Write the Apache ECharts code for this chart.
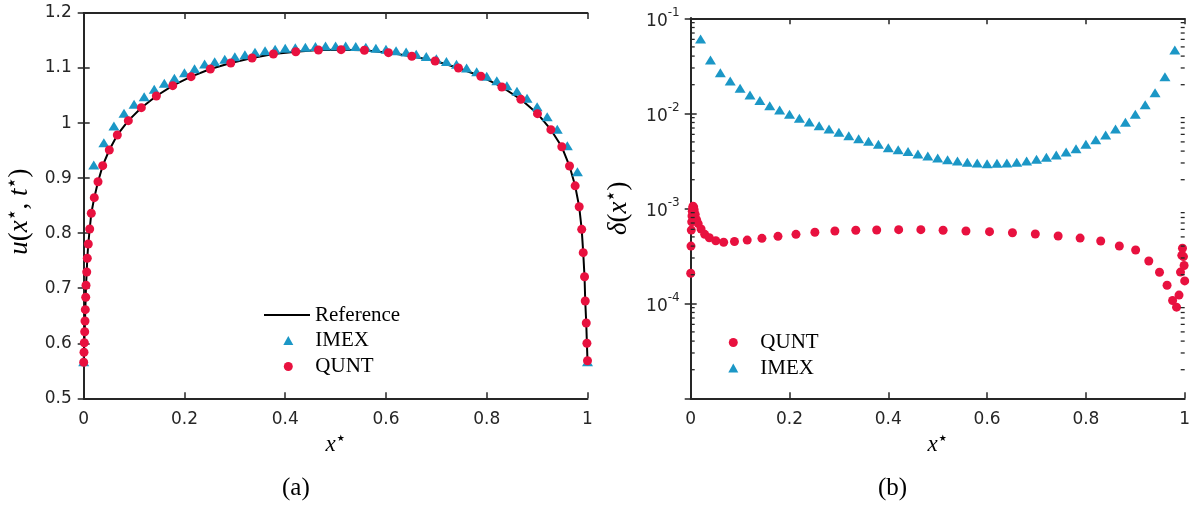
<!DOCTYPE html>
<html><head><meta charset="utf-8">
<script src="https://cdn.jsdelivr.net/npm/echarts@6/dist/echarts.min.js"></script>
<style>html,body{margin:0;padding:0;background:#fff}#c{width:1196px;height:511px}</style>
</head><body><div id="c"></div>
<script>
// ---------- data ----------
const quntX = [0, 0.0006, 0.0012, 0.002, 0.0026, 0.0032, 0.004, 0.0046, 0.006, 0.0071, 0.0091, 0.0119, 0.0151,
  0.021, 0.0284, 0.0377, 0.0508, 0.0667, 0.0886, 0.1144, 0.1442, 0.1767, 0.2131, 0.2514, 0.2919, 0.3342, 0.3765, 0.421,
  0.4659, 0.5109, 0.5572, 0.6049, 0.6513, 0.6976, 0.7438, 0.7883, 0.83, 0.8677, 0.9007,
  0.9273, 0.949, 0.9643, 0.9755, 0.9835, 0.9885, 0.9915, 0.9941, 0.9955, 0.9975, 0.9988, 1.0];
const quntU = [0.5654, 0.5836, 0.601, 0.621, 0.6404, 0.661, 0.6835, 0.7053, 0.7295, 0.7544, 0.7803, 0.8076, 0.8361,
  0.8645, 0.8935, 0.9226, 0.9511, 0.9784, 1.0044, 1.028, 1.0492, 1.068, 1.0843, 1.0983, 1.1092, 1.1183, 1.1255, 1.1297,
  1.1328, 1.1334, 1.1323, 1.1279, 1.1214, 1.1128, 1.1001, 1.085, 1.0656, 1.0432, 1.0171,
  0.988, 0.957, 0.922, 0.886, 0.848, 0.807, 0.7646, 0.7209, 0.6768, 0.6368, 0.60, 0.5683];
const refX = [0, 0.0006, 0.0012, 0.002, 0.0026, 0.0032, 0.004, 0.0046, 0.006, 0.0071, 0.0091, 0.0119, 0.0151,
  0.021, 0.0284, 0.0377, 0.0508, 0.0667, 0.0886, 0.1144, 0.1442, 0.1767, 0.2131, 0.2514, 0.2919, 0.3342, 0.3765, 0.421,
  0.4659, 0.5109, 0.5572, 0.6049, 0.6513, 0.6976, 0.7438, 0.7883, 0.83, 0.8677, 0.9007,
  0.9273, 0.949, 0.9643, 0.9755, 0.9835, 0.9885, 0.9915, 0.9941, 0.9955, 0.9975, 0.9988, 1.0];
const refU = [0.5654, 0.5836, 0.601, 0.621, 0.6404, 0.661, 0.6835, 0.7053, 0.7295, 0.7544, 0.7803, 0.8076, 0.8361,
  0.8645, 0.8935, 0.9226, 0.9511, 0.9784, 1.0044, 1.028, 1.0492, 1.068, 1.0843, 1.0983, 1.1092, 1.1183, 1.1255, 1.1297,
  1.1328, 1.1334, 1.1323, 1.1279, 1.1214, 1.1128, 1.1001, 1.085, 1.0656, 1.0432, 1.0171,
  0.988, 0.957, 0.922, 0.886, 0.848, 0.807, 0.7646, 0.7209, 0.6768, 0.6368, 0.60, 0.5683];
const imexX = [0, 0.02, 0.04, 0.06, 0.08, 0.10, 0.12, 0.14, 0.16, 0.18, 0.20, 0.22, 0.24, 0.26, 0.28, 0.30, 0.32,
  0.34, 0.36, 0.38, 0.40, 0.42, 0.44, 0.46, 0.48, 0.50, 0.52, 0.54, 0.56, 0.58, 0.60, 0.62, 0.64, 0.66, 0.68, 0.70,
  0.72, 0.74, 0.76, 0.78, 0.80, 0.82, 0.84, 0.86, 0.88, 0.90, 0.92, 0.94, 0.96, 0.98, 1.0];
const imexU = [0.5665, 0.9239, 0.9645, 0.9948, 1.0178, 1.0342, 1.048, 1.0614, 1.0723, 1.0814, 1.0916, 1.0988, 1.1074,
  1.1116, 1.1159, 1.1206, 1.1243, 1.1287, 1.1315, 1.1341, 1.1359, 1.137, 1.138, 1.139, 1.140, 1.140, 1.140, 1.139,
  1.138, 1.136, 1.134, 1.1316, 1.129, 1.125, 1.121, 1.117, 1.112, 1.1068, 1.100, 1.0934, 1.085, 1.0771, 1.068,
  1.0577, 1.045, 1.0298, 1.0116, 0.9887, 0.959, 0.9117, 0.5665];
const imexErrX = [0.02, 0.04, 0.06, 0.08, 0.10, 0.12, 0.14, 0.16, 0.18, 0.20, 0.22, 0.24, 0.26, 0.28, 0.30, 0.32,
  0.34, 0.36, 0.38, 0.40, 0.42, 0.44, 0.46, 0.48, 0.50, 0.52, 0.54, 0.56, 0.58, 0.60, 0.62, 0.64, 0.66, 0.68, 0.70,
  0.72, 0.74, 0.76, 0.78, 0.80, 0.82, 0.84, 0.86, 0.88, 0.90, 0.92, 0.94, 0.96, 0.98];
const imexErr = [0.0605, 0.0364, 0.0268, 0.0219, 0.0183, 0.0156, 0.0136, 0.0120, 0.0108, 0.00976, 0.00885, 0.00809,
  0.0074, 0.00684, 0.00631, 0.00581, 0.0054, 0.00507, 0.00472, 0.00435, 0.00413, 0.00395, 0.00373, 0.00356, 0.00338,
  0.00325, 0.00315, 0.00305, 0.0030, 0.00295, 0.00298, 0.0030, 0.00305, 0.00315, 0.00328, 0.00344, 0.00364, 0.00392,
  0.00424, 0.00472, 0.00527, 0.00591, 0.00684, 0.00803, 0.00976, 0.01233, 0.01648, 0.02427, 0.04637];
const quntErr = [2.07e-4, 4.0e-4, 5.9e-4, 7.2e-4, 8.3e-4, 9.3e-4, 1.0e-3, 1.05e-3, 1.03e-3, 9.6e-4, 8.6e-4, 7.6e-4, 6.9e-4,
  6.05e-4, 5.32e-4, 4.9e-4, 4.56e-4, 4.39e-4, 4.47e-4, 4.63e-4, 4.83e-4, 5.07e-4, 5.32e-4, 5.59e-4, 5.77e-4, 5.87e-4,
  5.91e-4, 5.96e-4, 5.96e-4, 5.87e-4, 5.77e-4, 5.68e-4, 5.53e-4, 5.36e-4, 5.11e-4, 4.86e-4, 4.53e-4, 4.01e-4, 3.64e-4,
  2.79e-4, 2.12e-4, 1.55e-4, 1.07e-4, 9.1e-5, 1.22e-4, 2.13e-4, 3.2e-4, 3.8e-4, 3.1e-4, 2.5e-4, 1.72e-4];
const logMinorMantissa = [2, 3, 4, 5, 6, 7, 8, 9];
const logMinorDecades = [1e-5, 1e-4, 1e-3, 1e-2];

// ---------- styling ----------
const AX = '#262626';
const BLUE = '#1b97c6';
const RED = '#e8113f';
const SERIF = 'Liberation Serif';
const SANS = 'DejaVu Sans';
const STAR = '★';
const zip = (a, b) => a.map((v, i) => [v, b[i]]);
const minorTicks = [];
logMinorDecades.forEach(d => logMinorMantissa.forEach(m => minorTicks.push([0, m * d])));

function richFor(size, starSize) {
  return {
    i: {fontFamily: SERIF, fontStyle: 'italic', fontSize: size, color: '#000'},
    n: {fontFamily: SERIF, fontSize: size, color: '#000'},
    s: {fontFamily: 'DejaVu Sans', fontSize: starSize, color: '#000', verticalAlign: 'top', padding: [1, 1, 0, 1]}
  };
}
const axLine = {show: true, lineStyle: {color: AX, width: 2}};
const axTick = {show: true, inside: true, length: 6, lineStyle: {color: AX, width: 1.5}};
const tickFont = {fontFamily: SANS, fontSize: 17, color: AX};
const legendText = {fontFamily: SERIF, fontSize: 21, color: '#000'};

function xAx(grid, pos, labels, name) {
  return {type: 'value', gridIndex: grid, position: pos, min: 0, max: 1, interval: 0.2,
    axisLine: axLine, axisTick: axTick, splitLine: {show: false},
    axisLabel: Object.assign({show: labels, margin: 13}, tickFont),
    name: name || '', nameLocation: 'middle', nameGap: 33, nameTextStyle: {rich: richFor(23, 9)}};
}

const option = {
  animation: false,
  backgroundColor: '#fff',
  grid: [
    {left: 83.7, top: 13, width: 503.8, height: 385.3},
    {left: 690.7, top: 18.3, width: 494, height: 380}
  ],
  xAxis: [
    xAx(0, 'bottom', true, '{i|x}{s|' + STAR + '}'),
    xAx(0, 'top', false),
    xAx(1, 'bottom', true, '{i|x}{s|' + STAR + '}'),
    xAx(1, 'top', false)
  ],
  yAxis: [
    {type: 'value', gridIndex: 0, position: 'left', min: 0.5, max: 1.2, interval: 0.1,
      axisLine: axLine, axisTick: axTick, splitLine: {show: false},
      axisLabel: Object.assign({margin: 12}, tickFont),
      name: '{i|u}{n|(}{i|x}{s|' + STAR + '}{n|, }{i|t}{s|' + STAR + '}{n|)}', nameLocation: 'middle', nameRotate: 90,
      nameGap: 50, nameTextStyle: {rich: richFor(27, 10), padding: [0, 12, 0, 0]}},
    {type: 'value', gridIndex: 0, position: 'right', min: 0.5, max: 1.2, interval: 0.1,
      axisLine: axLine, axisTick: axTick, splitLine: {show: false}, axisLabel: {show: false}},
    {type: 'log', logBase: 10, gridIndex: 1, position: 'left', min: 1e-5, max: 1e-1,
      axisLine: axLine, axisTick: axTick, splitLine: {show: false},
      axisLabel: {margin: 11, formatter: v => {
        const e = Math.round(Math.log10(v));
        if (e === -5) return '';
        return '{b|10}{s|' + e + '}';
      }, rich: {
        b: {fontFamily: SANS, fontSize: 17, color: AX, padding: [6, 0, 0, 0], verticalAlign: 'bottom'},
        s: {fontFamily: SANS, fontSize: 12, color: AX, verticalAlign: 'top'}
      }},
      name: '{i|δ}{n|(}{i|x}{s|' + STAR + '}{n|)}', nameLocation: 'middle', nameRotate: 90, nameGap: 58,
      nameTextStyle: {rich: richFor(27, 10)}},
    {type: 'log', logBase: 10, gridIndex: 1, position: 'right', min: 1e-5, max: 1e-1,
      axisLine: axLine, axisTick: axTick, splitLine: {show: false}, axisLabel: {show: false}}
  ],
  legend: [
    {data: [{name: 'Reference', icon: 'path://M0,0H46V2H0Z'}], orient: 'vertical', left: 264, top: 304.5,
      itemWidth: 46, itemHeight: 2, selectedMode: false, padding: 0, textStyle: legendText},
    {data: ['IMEX', 'QUNT'], orient: 'vertical', left: 283.3, top: 330, itemWidth: 10, itemHeight: 9,
      itemGap: 5, selectedMode: false, padding: 0,
      textStyle: Object.assign({padding: [0, 0, 0, 17]}, legendText)},
    {data: ['QUNT', 'IMEX'], orient: 'vertical', left: 728.3, top: 332, itemWidth: 10, itemHeight: 9,
      itemGap: 4.6, selectedMode: false, padding: 0,
      textStyle: Object.assign({padding: [0, 0, 0, 17]}, legendText)}
  ],
  title: [
    {text: '(a)', left: 282, top: 476, padding: 0,
      textStyle: {fontFamily: SERIF, fontSize: 25, fontWeight: 'normal', color: '#000'}},
    {text: '(b)', left: 878, top: 476, padding: 0,
      textStyle: {fontFamily: SERIF, fontSize: 25, fontWeight: 'normal', color: '#000'}}
  ],
  series: [
    {name: 'Reference', type: 'line', xAxisIndex: 0, yAxisIndex: 0, data: zip(refX, refU), symbol: 'none',
      lineStyle: {color: '#000', width: 2}, itemStyle: {color: '#000'}, z: 2, silent: true},
    {name: 'IMEX', type: 'scatter', xAxisIndex: 0, yAxisIndex: 0, data: zip(imexX, imexU), symbol: 'triangle',
      symbolSize: [11, 9], itemStyle: {color: BLUE, opacity: 1}, z: 3, silent: true},
    {name: 'QUNT', type: 'scatter', xAxisIndex: 0, yAxisIndex: 0, data: zip(quntX, quntU), symbol: 'circle',
      symbolSize: 9, itemStyle: {color: RED, opacity: 1}, z: 4, silent: true},
    {name: 'QUNT', type: 'scatter', xAxisIndex: 2, yAxisIndex: 2, data: zip(quntX, quntErr), symbol: 'circle',
      symbolSize: 9, itemStyle: {color: RED, opacity: 1}, z: 4, silent: true},
    {name: 'IMEX', type: 'scatter', xAxisIndex: 2, yAxisIndex: 2, data: zip(imexErrX, imexErr), symbol: 'triangle',
      symbolSize: [11, 9], itemStyle: {color: BLUE, opacity: 1}, z: 3, silent: true},
    {name: 'minor', type: 'custom', xAxisIndex: 2, yAxisIndex: 2, data: minorTicks, silent: true, clip: false, z: 5,
      renderItem: (params, api) => {
        const v = api.value(1);
        const a = api.coord([0, v]);
        const b = api.coord([1, v]);
        const st = {stroke: AX, lineWidth: 1.3};
        return {type: 'group', children: [
          {type: 'line', shape: {x1: a[0], y1: a[1], x2: a[0] + 4, y2: a[1]}, style: st},
          {type: 'line', shape: {x1: b[0] - 4, y1: b[1], x2: b[0], y2: b[1]}, style: st}
        ]};
      }}
  ]
};
const chart = echarts.init(document.getElementById('c'), null, {renderer: 'canvas'});
chart.setOption(option);
</script>
</body></html>
